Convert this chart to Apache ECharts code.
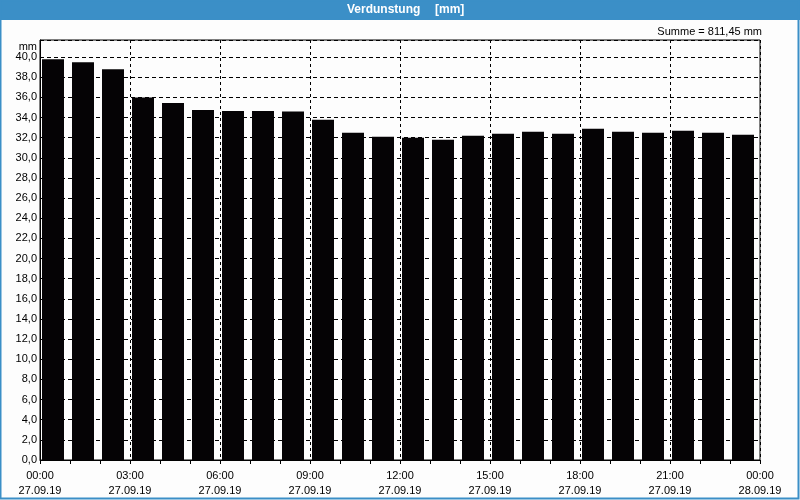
<!DOCTYPE html>
<html>
<head>
<meta charset="utf-8">
<script src="https://cdn.jsdelivr.net/npm/echarts@6/dist/echarts.min.js"></script>
<style>
html,body{margin:0;padding:0;background:#fdfdfd;}
#c{width:800px;height:500px;}
</style>
</head>
<body>
<div id="c"></div>
<script>
// Data
const hours = ['00','01','02','03','04','05','06','07','08','09','10','11','12','13','14','15','16','17','18','19','20','21','22','23'];
const values = [39.8, 39.5, 38.8, 36.0, 35.45, 34.76, 34.66, 34.66, 34.6, 33.77, 32.5, 32.1, 32.0, 31.8, 32.2, 32.4, 32.6, 32.4, 32.9, 32.6, 32.5, 32.7, 32.5, 32.3];
const tickTimes = ['00:00','03:00','06:00','09:00','12:00','15:00','18:00','21:00','00:00'];
const tickDates = ['27.09.19','27.09.19','27.09.19','27.09.19','27.09.19','27.09.19','27.09.19','27.09.19','28.09.19'];
const titleMain = 'Verdunstung';
const titleUnit = '[mm]';
const sumText = 'Summe = 811,45 mm';
const unitText = 'mm';

const FONT = 'Liberation Sans';
const chart = echarts.init(document.getElementById('c'), null, {renderer: 'canvas'});
chart.setOption({
  animation: false,
  backgroundColor: '#fdfdfd',
  textStyle: {fontFamily: FONT},
  graphic: [
    {type: 'rect', shape: {x: 0, y: 0, width: 800, height: 20}, style: {fill: '#3b8fc7'}, z: 0},
    {type: 'rect', shape: {x: 0.5, y: 0.5, width: 798, height: 498}, style: {fill: null, stroke: '#3b8fc7', lineWidth: 2}, z: 0},
    {type: 'text', x: 347, y: 10, style: {text: titleMain, fill: '#fff', font: 'bold 12px "' + FONT + '"', textAlign: 'left', textVerticalAlign: 'middle'}},
    {type: 'text', x: 435, y: 10, style: {text: titleUnit, fill: '#fff', font: 'bold 12px "' + FONT + '"', textAlign: 'left', textVerticalAlign: 'middle'}},
    {type: 'text', x: 762, y: 32, style: {text: sumText, fill: '#000', font: '11px "' + FONT + '"', textAlign: 'right', textVerticalAlign: 'middle'}},
    {type: 'text', x: 37, y: 47, style: {text: unitText, fill: '#000', font: '11px "' + FONT + '"', textAlign: 'right', textVerticalAlign: 'middle'}}
  ],
  grid: {left: 40, right: 40, top: 40, bottom: 40, show: true, borderColor: '#000', borderWidth: 1, backgroundColor: 'transparent'},
  xAxis: [
    {type: 'category', data: hours, show: false, boundaryGap: true},
    {type: 'value', min: 0, max: 24, interval: 3, position: 'bottom',
      axisLine: {show: true, lineStyle: {color: '#000'}},
      axisTick: {show: true, length: 4, lineStyle: {color: '#000'}},
      minorTick: {show: true, splitNumber: 3, length: 4, lineStyle: {color: '#000'}},
      splitLine: {show: true, lineStyle: {color: '#000', type: [3, 3], width: 1}},
      axisLabel: {color: '#000', fontSize: 11, fontFamily: FONT, margin: 8, lineHeight: 15,
        formatter: function (v) { const i = Math.round(v / 3); return tickTimes[i] + '\n' + tickDates[i]; }}
    }
  ],
  yAxis: [
    {type: 'value', min: 0, max: 41.7, interval: 2,
      axisLine: {show: true, lineStyle: {color: '#000'}},
      axisTick: {show: false},
      splitLine: {show: true, lineStyle: {color: '#000', type: [4, 3], width: 1}},
      axisLabel: {color: '#000', fontSize: 11, fontFamily: FONT, margin: 3,
        formatter: function (v) { return v > 40.5 ? '' : v.toFixed(1).replace('.', ','); }}
    }
  ],
  series: [
    {type: 'bar', xAxisIndex: 0, yAxisIndex: 0, data: values, barWidth: 22, barGap: 0, itemStyle: {color: '#050305'}, z: 3},
    {type: 'bar', xAxisIndex: 0, yAxisIndex: 0, data: values.map(() => '-'), barWidth: 4, barGap: 0, itemStyle: {color: 'transparent'}}
  ]
});
</script>
</body>
</html>
